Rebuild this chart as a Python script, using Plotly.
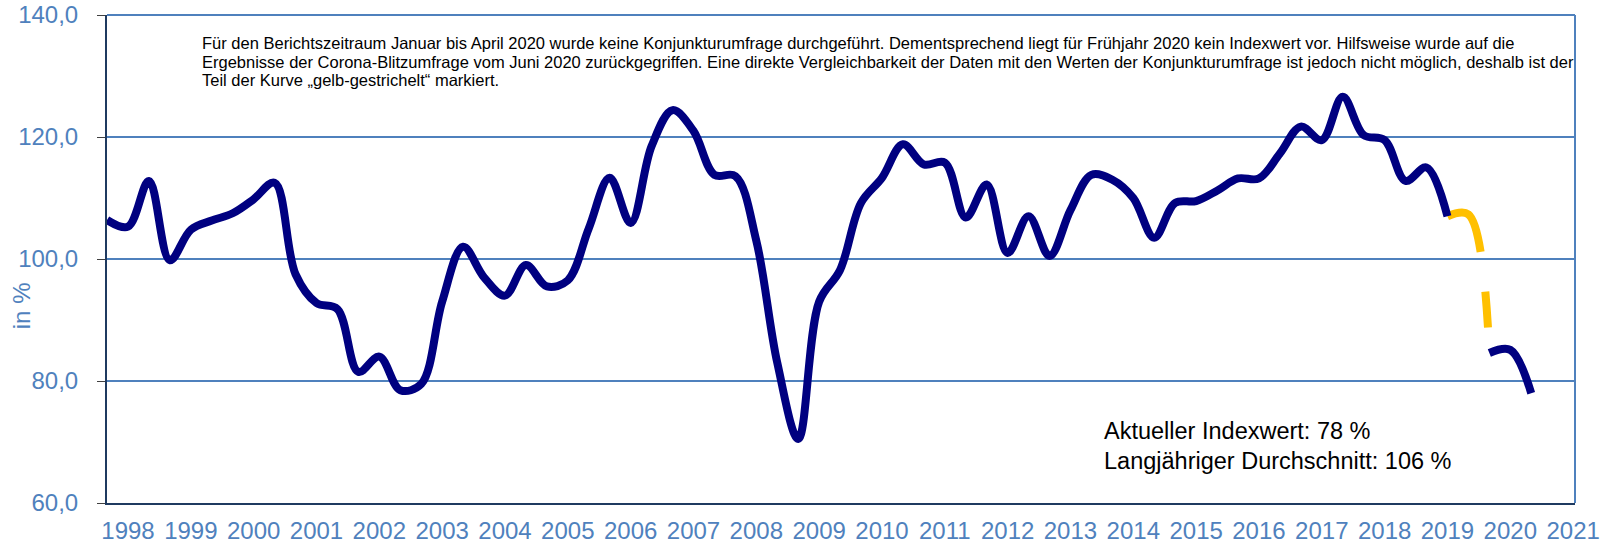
import plotly.graph_objects as go

# ---- data -------------------------------------------------------------
# survey waves: Herbst 1997 ... Frühjahr/Sommer 2020 (3 waves per year)
wave_year = [1997] + [y for y in range(1998, 2020) for _ in range(3)] + [2020, 2020]
wave_slot = [2] + [s for _ in range(1998, 2020) for s in range(3)] + [0, 1]
# numeric axis position: year + slot/3 (slot 0 = Jahresbeginn, 1 = Frühjahr, 2 = Herbst)
wave_pos = [y + s / 3 for y, s in zip(wave_year, wave_slot)]

konjunktur_index = [
    106.4, 105.3, 112.8, 99.8, 104.8, 106.3, 107.5, 109.8, 112.5, 97.5,
    92.8, 91.8, 81.5, 84.0, 78.5, 79.5, 93.0, 102.0, 97.0, 94.0,
    99.0, 95.5, 96.5, 105.0, 113.3, 105.9, 118.5, 124.4, 121.0, 113.8,
    113.6, 103.0, 83.0, 70.5, 93.0, 98.2, 109.2, 113.3, 118.8, 115.5,
    115.8, 106.8, 112.2, 101.0, 107.0, 100.5, 108.0, 113.8, 113.0, 110.0,
    103.5, 109.2, 109.5, 111.2, 113.2, 113.2, 117.3, 121.7, 119.5, 126.6,
    120.3, 119.5, 112.8, 115.0, 107.0, None, 84.6, 85.1, 78.0,
]
# "gelb-gestrichelt" bridge (Corona-Blitzumfrage)
corona_bridge = [None] * 64 + [107.0, 107.3, 84.6, None, None]

year_ticks = list(range(1998, 2022))
year_labels = [str(y) for y in year_ticks]
y_ticks = [60, 80, 100, 120, 140]

note_lines = [
    "Für den Berichtszeitraum Januar bis April 2020 wurde keine Konjunkturumfrage durchgeführt. "
    "Dementsprechend liegt für Frühjahr 2020 kein Indexwert vor. Hilfsweise wurde auf die",
    "Ergebnisse der Corona-Blitzumfrage vom Juni 2020 zurückgegriffen. Eine direkte Vergleichbarkeit "
    "der Daten mit den Werten der Konjunkturumfrage ist jedoch nicht möglich, deshalb ist der",
    "Teil der Kurve „gelb-gestrichelt“ markiert.",
]
info_lines = ["Aktueller Indexwert: 78 %", "Langjähriger Durchschnitt: 106 %"]

# ---- figure -----------------------------------------------------------
BLUE = "#4F81BD"
NAVY = "#000080"
DARK = "#1F3A60"

fig = go.Figure()
fig.add_trace(go.Scatter(
    x=wave_pos, y=corona_bridge, mode="lines", connectgaps=False,
    line=dict(color="#FFC000", width=8, dash="62px,40px,36px,80px", shape="spline", smoothing=1.0),
    hoverinfo="skip", showlegend=False))
fig.add_trace(go.Scatter(
    x=wave_pos, y=konjunktur_index, mode="lines", connectgaps=False,
    line=dict(color=NAVY, width=8, shape="spline", smoothing=1.0),
    showlegend=False))

font_family = "Liberation Sans, Arial, sans-serif"

annotations = []
# plot area: 488 px tall, top at 15 px
for i, line in enumerate(note_lines):
    annotations.append(dict(
        text=line, xref="paper", yref="paper", x=0.0634, y=(503 - (43.2 + 18.6 * i)) / 488,
        xanchor="left", yanchor="middle", align="left", showarrow=False,
        font=dict(size=16.5, color="black")))
for i, line in enumerate(info_lines):
    annotations.append(dict(
        text=line, xref="paper", yref="paper", x=0.678, y=(503 - (431 + 30 * i)) / 488,
        xanchor="left", yanchor="middle", align="left", showarrow=False,
        font=dict(size=23.5, color="black")))
annotations.append(dict(
    text="in %", xref="paper", yref="paper", x=-0.058, y=0.405,
    xanchor="center", yanchor="middle", textangle=-90, showarrow=False,
    font=dict(size=24, color=BLUE)))

fig.update_layout(
    width=1612, height=544,
    margin=dict(l=107, r=37, t=15, b=41, autoexpand=False),
    paper_bgcolor="white", plot_bgcolor="white",
    separators=",.",
    font=dict(family=font_family),
    xaxis=dict(
        range=[1997.666, 2021.03],
        tickvals=year_ticks, ticktext=year_labels,
        tickfont=dict(size=24, color=BLUE),
        showgrid=False, zeroline=False, automargin=False,
        showline=True, linecolor=DARK, linewidth=2,
        ticks="outside", ticklen=5, tickcolor="rgba(0,0,0,0)",
    ),
    yaxis=dict(
        range=[60, 140], tickvals=y_ticks, tickformat=".1f",
        tickfont=dict(size=24, color=BLUE),
        showgrid=True, gridcolor=BLUE, gridwidth=1.5,
        zeroline=False, automargin=False,
        showline=True, linecolor=DARK, linewidth=2,
        ticks="outside", ticklen=8, tickcolor="#404040", tickwidth=1,
        ticklabelstandoff=14,
    ),
    shapes=[
        dict(type="line", xref="paper", yref="paper", x0=0, x1=1, y0=1, y1=1,
             line=dict(color=BLUE, width=2)),
        dict(type="line", xref="paper", yref="paper", x0=1, x1=1, y0=0, y1=1,
             line=dict(color=BLUE, width=2)),
    ],
    annotations=annotations,
)

fig.write_html("out.html", config={"displayModeBar": False},
               post_script="document.body.style.margin='0';")
